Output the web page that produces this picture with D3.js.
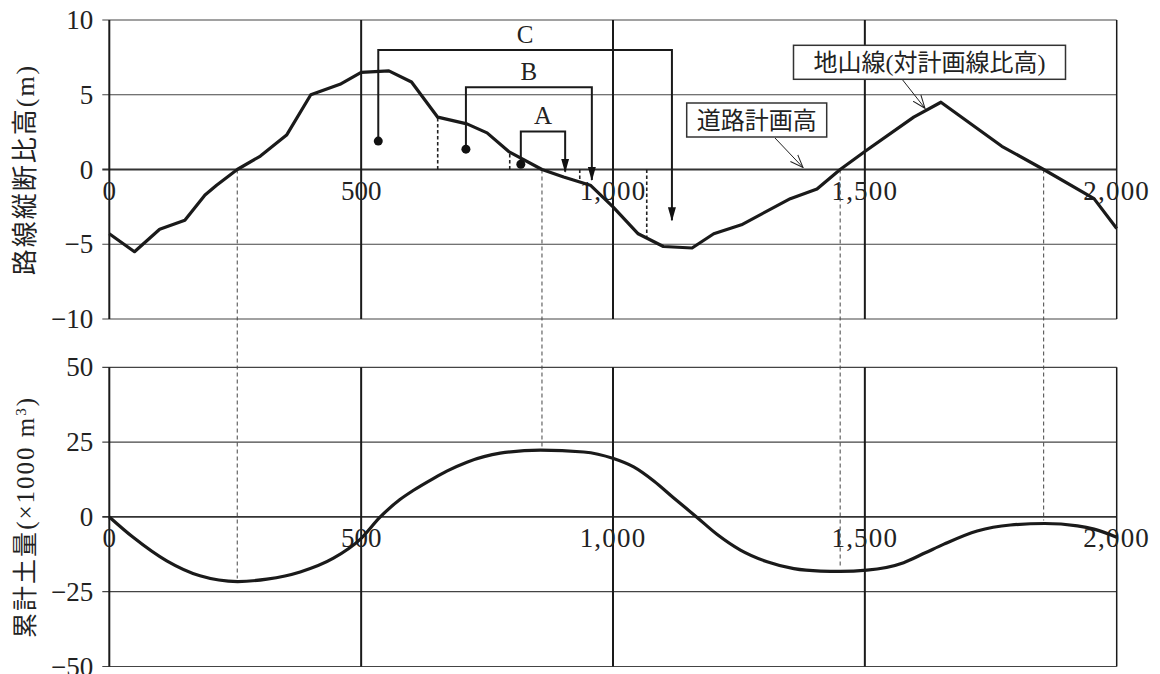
<!DOCTYPE html>
<html>
<head>
<meta charset="utf-8">
<script src="https://cdn.jsdelivr.net/npm/d3@7"></script>
<style>
    body { margin: 0; background: #ffffff; }
    svg { display: block; }
    .num { font-family: "Liberation Serif", "DejaVu Serif", serif; fill: #222; }
    .jp { font-family: "Noto Sans CJK JP", "Noto Sans", sans-serif; fill: #222; }
</style>
</head>
<body>
<div id="chart"></div>
<script>

// ground line relative to the road plan (m), by station (m)
const stations = [0, 50, 100, 150, 190, 213, 254, 300, 352, 400, 458, 500, 555, 600, 652, 710, 750, 793, 859, 902, 955, 1000, 1050, 1100, 1157, 1200, 1255, 1352, 1405, 1451, 1500, 1597, 1651, 1772, 1855, 1955, 2000];
const groundHeight = [-4.3, -5.5, -4.0, -3.4, -1.7, -1.05, 0, 0.9, 2.3, 5.0, 5.7, 6.5, 6.6, 5.85, 3.5, 3.05, 2.45, 1.2, 0, -0.5, -1.05, -2.5, -4.3, -5.15, -5.25, -4.3, -3.7, -1.95, -1.3, 0, 1.2, 3.5, 4.5, 1.55, 0, -1.95, -3.95];

// cumulative earth volume (x1000 m3)
const massStations = [0, 48, 114, 180, 255, 313, 379, 445, 498, 538, 577, 604, 644, 670, 710, 776, 856, 942, 1001, 1041, 1081, 1120, 1167, 1207, 1253, 1306, 1359, 1412, 1451, 1504, 1577, 1620, 1657, 1723, 1789, 1857, 1922, 1955, 2000];
const massVolume = [0, -6.9, -14.7, -19.7, -21.6, -20.8, -18.4, -13.8, -7.5, 0, 5.8, 8.9, 12.9, 15.3, 18.3, 21.3, 22.3, 21.7, 19.5, 16.7, 12.0, 6.4, -0.2, -5.9, -11.1, -15, -17.3, -18.1, -18.2, -17.8, -15.3, -12, -9.1, -4.7, -2.7, -2.2, -3.0, -4.1, -6.8];

const xTicks = [0, 500, 1000, 1500, 2000];
const xTickLabels = ["0", "500", "1,000", "1,500", "2,000"];
const topTicks = [10, 5, 0, -5, -10];
const bottomTicks = [50, 25, 0, -25, -50];

// short dotted drops from the ground line to the plan line
const dropStations = [652, 795, 934, 1067];

// balance points linking the two charts
const balanceStations = [254, 859, 1451, 1855];
const balanceVolumes = [-21.6, 22.4, -18.2, -2.2];

// haul brackets A, B, C
const haulNames = ["A", "B", "C"];
const haulFrom = [817, 708, 534];
const haulFromHeight = [0.35, 1.36, 1.9];
const haulTo = [905, 958, 1117];
const haulToHeight = [-0.15, -0.7, -3.4];
const haulTop = [2.55, 5.5, 8.0];

const width = 1160;
const height = 674;

let svg = d3.select("#chart").append("svg")
    .attr("width", width)
    .attr("height", height);

let defs = svg.append("defs");

defs.append("marker")
    .attr("id", "solidArrow")
    .attr("markerUnits", "userSpaceOnUse")
    .attr("markerWidth", 14)
    .attr("markerHeight", 10)
    .attr("viewBox", "0 0 14 10")
    .attr("refX", 13)
    .attr("refY", 5)
    .attr("orient", "auto")
    .append("path")
    .attr("d", "M0,1 L14,5 L0,9 Z")
    .attr("fill", "#111");

defs.append("marker")
    .attr("id", "openArrow")
    .attr("markerUnits", "userSpaceOnUse")
    .attr("markerWidth", 14)
    .attr("markerHeight", 12)
    .attr("viewBox", "0 0 14 12")
    .attr("refX", 13)
    .attr("refY", 6)
    .attr("orient", "auto")
    .append("path")
    .attr("d", "M0,1 L13,6 L0,11")
    .attr("fill", "none")
    .attr("stroke", "#222")
    .attr("stroke-width", 1);

let x = d3.scaleLinear().domain([0, 2000]).range([109.3, 1116.7]);
let yTop = d3.scaleLinear().domain([-10, 10]).range([319, 20]);
let yBottom = d3.scaleLinear().domain([-50, 50]).range([666.5, 367.3]);

let groundAt = d3.scaleLinear().domain(stations).range(groundHeight);


function drawFrame(y, ticks, title, titleSize) {

    let g = svg.append("g");
    let [y0, y1] = y.range();

    // horizontal grid
    g.selectAll("line.h")
        .data(ticks)
        .join("line")
        .attr("class", "h")
        .attr("x1", x(0) - 7)
        .attr("x2", x(2000))
        .attr("y1", d => y(d))
        .attr("y2", d => y(d))
        .attr("stroke", d => d === 0 ? "#333" : "#444")
        .attr("stroke-width", d => d === 0 ? 1.8 : 1.2);

    // vertical grid
    g.selectAll("line.v")
        .data(xTicks)
        .join("line")
        .attr("class", "v")
        .attr("x1", d => x(d))
        .attr("x2", d => x(d))
        .attr("y1", y1)
        .attr("y2", y0)
        .attr("stroke", "#1a1a1a")
        .attr("stroke-width", d => d === 2000 ? 1.5 : 2);

    g.selectAll("text.ytick")
        .data(ticks)
        .join("text")
        .attr("class", "ytick num")
        .attr("x", x(0) - 16)
        .attr("y", d => y(d) + 9)
        .attr("text-anchor", "end")
        .attr("font-size", 27)
        .text(d => d < 0 ? "\u2212" + Math.abs(d) : d);

    g.selectAll("text.xtick")
        .data(xTicks)
        .join("text")
        .attr("class", "xtick num")
        .attr("x", d => x(d))
        .attr("y", y(0) + 30)
        .attr("text-anchor", "middle")
        .attr("font-size", 27)
        .attr("letter-spacing", d => d >= 1000 ? 1.2 : 0)
        .text((d, i) => xTickLabels[i]);

    let cy = (y0 + y1) / 2;
    let t = g.append("text")
        .attr("class", "jp")
        .attr("transform", `translate(34,${cy}) rotate(-90)`)
        .attr("text-anchor", "middle")
        .attr("font-size", titleSize)
        .attr("letter-spacing", 2);
    title.forEach(part => {
        t.append("tspan")
            .attr("class", part.serif ? "num" : "jp")
            .attr("baseline-shift", part.sup ? "super" : null)
            .attr("font-size", part.sup ? 15 : null)
            .text(part.text);
    });
}

drawFrame(yTop, topTicks, [
    { text: "路線縦断比高" },
    { text: "(m)", serif: true }
], 26);

drawFrame(yBottom, bottomTicks, [
    { text: "累計土量" },
    { text: "(×1000 m", serif: true },
    { text: "3", serif: true, sup: true },
    { text: ")", serif: true }
], 25);


// links between balance points and the mass curve extremes
svg.append("g").selectAll("line")
    .data(balanceStations)
    .join("line")
    .attr("x1", d => x(d))
    .attr("x2", d => x(d))
    .attr("y1", yTop(0))
    .attr("y2", (d, i) => yBottom(balanceVolumes[i]) - 3)
    .attr("stroke", "#444")
    .attr("stroke-width", 1)
    .attr("stroke-dasharray", "4,3");

// dotted drops
svg.append("g").selectAll("line")
    .data(dropStations)
    .join("line")
    .attr("x1", d => x(d))
    .attr("x2", d => x(d))
    .attr("y1", yTop(0))
    .attr("y2", d => yTop(groundAt(d)))
    .attr("stroke", "#222")
    .attr("stroke-width", 1.6)
    .attr("stroke-dasharray", "3.5,2.5");

// ground line
let groundLine = d3.line()
    .x((d, i) => x(stations[i]))
    .y(d => yTop(d));

svg.append("path")
    .datum(groundHeight)
    .attr("d", groundLine)
    .attr("fill", "none")
    .attr("stroke", "#1a1a1a")
    .attr("stroke-width", 3.2)
    .attr("stroke-linejoin", "round");

// mass curve
let massLine = d3.line()
    .x((d, i) => x(massStations[i]))
    .y(d => yBottom(d))
    .curve(d3.curveMonotoneX);

svg.append("path")
    .datum(massVolume)
    .attr("d", massLine)
    .attr("fill", "none")
    .attr("stroke", "#1a1a1a")
    .attr("stroke-width", 3.2);

// haul brackets
let hauls = svg.append("g");

hauls.selectAll("path")
    .data(haulNames)
    .join("path")
    .attr("d", (d, i) => `M${x(haulFrom[i])},${yTop(haulFromHeight[i])}V${yTop(haulTop[i])}H${x(haulTo[i])}V${yTop(haulToHeight[i])}`)
    .attr("fill", "none")
    .attr("stroke", "#1a1a1a")
    .attr("stroke-width", 2)
    .attr("marker-end", "url(#solidArrow)");

hauls.selectAll("circle")
    .data(haulNames)
    .join("circle")
    .attr("cx", (d, i) => x(haulFrom[i]))
    .attr("cy", (d, i) => yTop(haulFromHeight[i]))
    .attr("r", 4.5)
    .attr("fill", "#111");

hauls.selectAll("text")
    .data(haulNames)
    .join("text")
    .attr("class", "num")
    .attr("x", (d, i) => (x(haulFrom[i]) + x(haulTo[i])) / 2)
    .attr("y", (d, i) => yTop(haulTop[i]) - 7)
    .attr("text-anchor", "middle")
    .attr("font-size", 25)
    .text(d => d);


// callout labels
function callout(label, cx, cy, boxW, fromX, fromY, toX, toY) {
    let g = svg.append("g");
    g.append("line")
        .attr("x1", fromX).attr("y1", fromY)
        .attr("x2", toX).attr("y2", toY)
        .attr("stroke", "#222")
        .attr("stroke-width", 1)
        .attr("marker-end", "url(#openArrow)");
    g.append("rect")
        .attr("x", cx - boxW / 2)
        .attr("y", cy - 17)
        .attr("width", boxW)
        .attr("height", 34)
        .attr("fill", "#fff")
        .attr("stroke", "#333")
        .attr("stroke-width", 1.5);
    let t = g.append("text")
        .attr("class", "jp")
        .attr("x", cx)
        .attr("y", cy + 9)
        .attr("text-anchor", "middle")
        .attr("font-size", 24);
    label.forEach(part => {
        t.append("tspan")
            .attr("class", part.serif ? "num" : "jp")
            .text(part.text);
    });
}

callout([{ text: "道路計画高" }], 756.7, 120, 140, 775, 138, 803, 167.5);
callout([
    { text: "地山線" },
    { text: "(", serif: true },
    { text: "対計画線比高" },
    { text: ")", serif: true }
], 929.5, 62.3, 272, 902.7, 80, 925, 108.3);

</script>
</body>
</html>
